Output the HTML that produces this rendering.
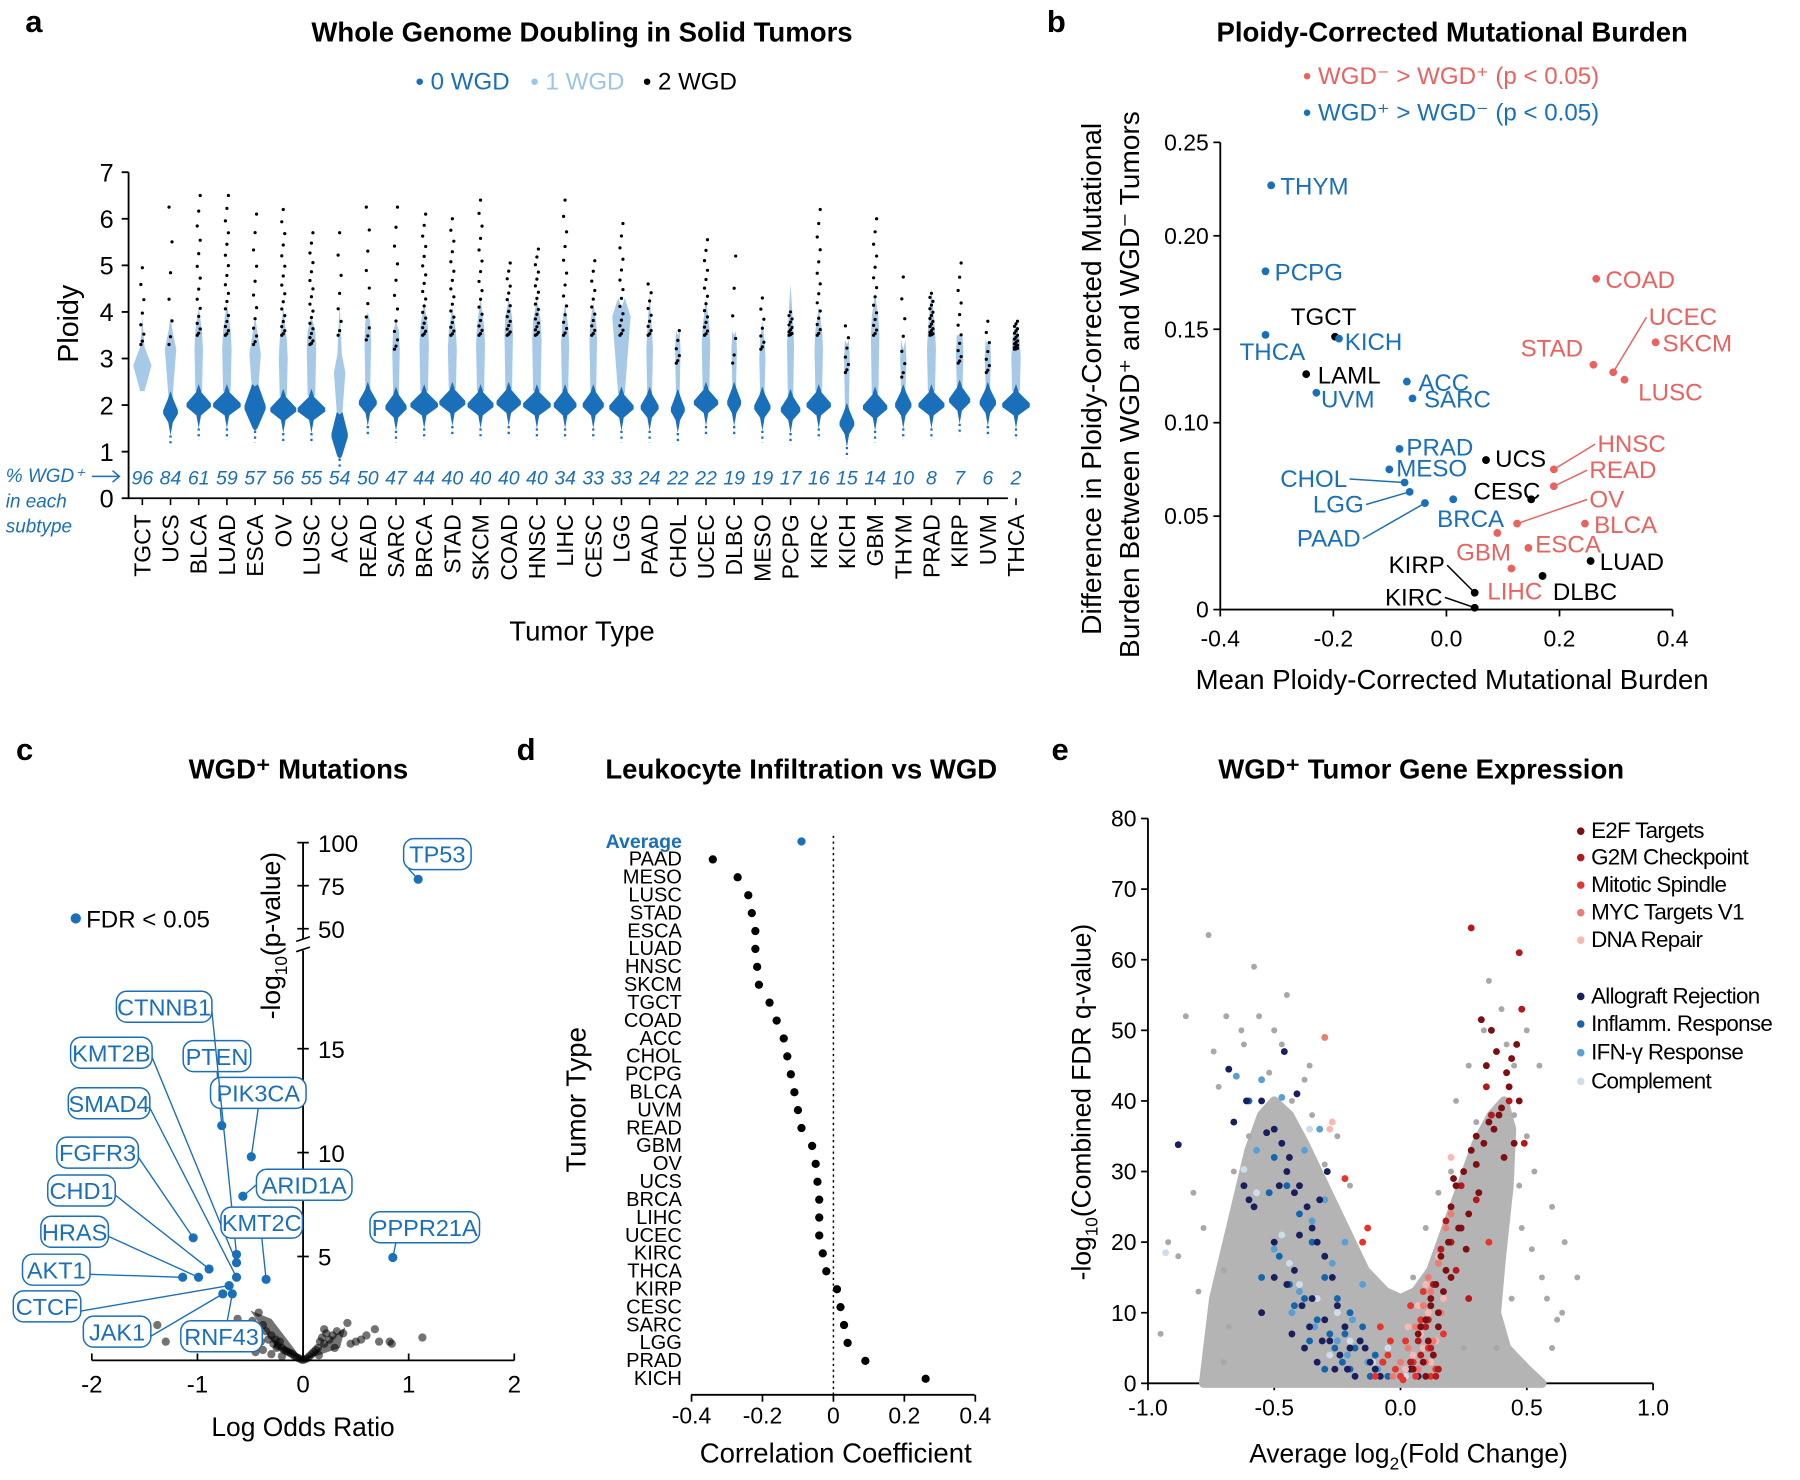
<!DOCTYPE html>
<html><head><meta charset="utf-8"><title>WGD figure</title>
<style>
html,body{margin:0;padding:0;background:#fff;}
svg{display:block;font-family:"Liberation Sans",Arial,sans-serif;}
</style></head>
<body>
<svg id="fig" width="1800" height="1480" viewBox="0 0 1568 1289.2" preserveAspectRatio="none" xmlns="http://www.w3.org/2000/svg">
<g id="pa"></g>
<g id="pb"></g>
<g id="pc"></g>
<g id="pd"></g>
<g id="pe"></g>
</svg>
<script>
// ---------- Panel a data ----------
const aTypes = ["TGCT","UCS","BLCA","LUAD","ESCA","OV","LUSC","ACC","READ","SARC","BRCA","STAD","SKCM","COAD","HNSC","LIHC","CESC","LGG","PAAD","CHOL","UCEC","DLBC","MESO","PCPG","KIRC","KICH","GBM","THYM","PRAD","KIRP","UVM","THCA"];
const aPct = [96,84,61,59,57,56,55,54,50,47,44,40,40,40,40,34,33,33,24,22,22,19,19,17,16,15,14,10,8,7,6,2];
const aCenter0 = [2.0,1.85,2.0,2.0,1.95,1.9,1.9,1.35,2.05,1.95,2.0,2.05,2.0,2.05,2.0,2.0,2.0,1.95,1.95,1.9,2.05,2.05,1.95,1.9,2.0,1.6,1.95,2.0,2.0,2.1,2.05,2.0];
const aCenter1 = [2.85,3.2,3.2,3.2,3.1,3.0,3.2,2.7,3.4,3.2,3.3,3.2,3.3,3.5,3.4,3.3,3.4,3.9,3.2,3.2,3.3,3.2,3.0,3.3,3.2,3.0,3.5,3.0,3.2,3.1,3.0,3.0];
const aTop1 = [3.9,3.9,4.1,4.2,3.9,4.1,3.9,4.2,4.0,3.8,4.2,4.1,4.3,4.3,4.3,4.2,4.2,4.1,4.4,3.5,4.3,3.5,3.8,4.6,4.1,3.3,4.4,3.2,4.5,3.5,3.3,3.8];
const aMax = [4.95,6.25,6.5,6.5,6.1,6.2,5.7,5.7,6.25,6.25,6.1,6.0,6.4,5.05,5.35,6.4,5.1,5.9,4.6,3.6,5.55,5.2,4.3,4.0,6.2,3.7,6.0,4.75,4.4,5.05,3.8,3.8];
const aSize = [0.3,0.2,0.8,1.0,0.6,0.9,1.0,0.3,0.4,0.6,1.0,0.9,0.9,0.8,1.0,0.7,0.6,0.8,0.4,0.15,0.8,0.15,0.3,0.5,0.8,0.2,0.8,0.3,0.9,0.6,0.3,1.0];
const aYTicks = [0,1,2,3,4,5,6,7];

// ---------- Panel b data ----------
const bLabels = ["THYM","PCPG","THCA","TGCT","KICH","LAML","UVM","ACC","SARC","PRAD","MESO","CHOL","LGG","PAAD","BRCA","UCS","CESC","HNSC","READ","OV","BLCA","GBM","ESCA","LIHC","LUAD","DLBC","KIRP","KIRC","COAD","UCEC","STAD","SKCM","LUSC"];
const bMean = [-0.31,-0.32,-0.32,-0.197,-0.19,-0.248,-0.23,-0.07,-0.06,-0.083,-0.101,-0.074,-0.065,-0.038,0.012,0.07,0.15,0.19,0.19,0.125,0.245,0.09,0.145,0.115,0.255,0.17,0.05,0.05,0.265,0.295,0.26,0.37,0.315];
const bDiff = [0.227,0.181,0.147,0.146,0.145,0.126,0.116,0.122,0.113,0.086,0.075,0.068,0.063,0.057,0.059,0.080,0.059,0.075,0.066,0.046,0.046,0.041,0.033,0.022,0.026,0.018,0.009,0.001,0.177,0.127,0.131,0.143,0.123];
const bGroup = ["b","b","b","k","b","k","b","b","b","b","b","b","b","b","b","k","k","r","r","r","r","r","r","r","k","k","k","k","r","r","r","r","r"];
const bXTicks = [-0.4,-0.2,0,0.2,0.4];
const bXTickLabels = ["-0.4","-0.2","0.0","0.2","0.4"];
const bYTicks = [0,0.05,0.10,0.15,0.20,0.25];
const bYTickLabels = ["0","0.05","0.10","0.15","0.20","0.25"];

// ---------- Panel c data ----------
const cGenes = ["TP53","PPPR21A","PTEN","PIK3CA","ARID1A","FGFR3","CTNNB1","KMT2B","SMAD4","CHD1","HRAS","AKT1","CTCF","JAK1","RNF43","KMT2C"];
const cLOR = [1.09,0.85,-0.77,-0.49,-0.57,-1.04,-0.63,-0.63,-0.63,-0.89,-0.99,-1.14,-0.70,-0.76,-0.67,-0.35];
const cLogP = [78.7,4.95,11.3,9.8,7.9,5.9,5.1,4.7,4.0,4.4,4.0,4.0,3.6,3.2,3.2,3.9];
const cBgLOR = [-1.82,-1.38,-1.3,-0.85,-0.75,-0.62,-0.55,-0.5,-0.48,-0.45,-0.42,-0.4,-0.38,-0.35,-0.33,-0.3,-0.28,-0.26,-0.24,-0.22,-0.2,-0.18,-0.16,-0.14,-0.12,-0.1,-0.08,-0.06,-0.04,-0.02,0,0.02,0.04,0.06,0.08,0.1,0.12,0.14,0.16,0.18,0.2,0.22,0.25,0.28,0.32,0.38,0.42,0.45,0.5,0.55,0.6,0.68,0.72,0.82,0.84,1.13,-0.45,-0.38,-0.3,-0.25,-0.2,0.15,0.2,0.3];
const cBgLogP = [1.6,1.7,0.9,1.6,1.3,2.0,1.5,1.3,1.9,1.1,2.3,0.9,1.7,1.4,1.0,1.2,0.8,1.0,0.7,0.9,0.6,0.5,0.45,0.4,0.35,0.3,0.2,0.15,0.1,0.05,0.02,0.06,0.1,0.2,0.3,0.4,0.5,0.6,0.9,1.1,0.8,1.3,1.0,1.2,1.4,1.3,1.8,0.8,0.9,1.0,1.2,1.5,0.9,0.9,0.8,1.1,0.4,0.5,0.3,0.6,0.2,0.25,1.5,0.6];
const cYTicksLow = [5,10,15];
const cYTicksHigh = [50,75,100];
const cXTicks = [-2,-1,0,1,2];

// ---------- Panel d data ----------
const dTypes = ["Average","PAAD","MESO","LUSC","STAD","ESCA","LUAD","HNSC","SKCM","TGCT","COAD","ACC","CHOL","PCPG","BLCA","UVM","READ","GBM","OV","UCS","BRCA","LIHC","UCEC","KIRC","THCA","KIRP","CESC","SARC","LGG","PRAD","KICH"];
const dCorr = [-0.09,-0.34,-0.27,-0.24,-0.23,-0.22,-0.22,-0.215,-0.21,-0.18,-0.16,-0.14,-0.13,-0.12,-0.11,-0.10,-0.09,-0.06,-0.05,-0.045,-0.04,-0.04,-0.04,-0.03,-0.02,0.01,0.02,0.03,0.04,0.09,0.26];
const dXTicks = [-0.4,-0.2,0,0.2,0.4];

// ---------- Panel e data ----------
const eSets = ["E2F Targets","G2M Checkpoint","Mitotic Spindle","MYC Targets V1","DNA Repair","Allograft Rejection","Inflamm. Response","IFN-γ Response","Complement"];
const eColors = ["#7d0f12","#b3191e","#e8322c","#ef7a72","#f7b9b2","#1b1e5c","#1565ad","#5a9fd4","#cfdcea"];
const eGreyX = [-0.76,-0.58,-0.85,-0.69,-0.74,-0.72,-0.62,-0.63,-0.56,-0.47,-0.52,-0.38,-0.35,-0.43,-0.25,-0.2,-0.3,-0.4,-0.92,-0.88,-0.95,-0.8,-0.7,-0.5,0.27,0.35,0.4,0.45,0.5,0.55,0.6,0.65,0.7,0.58,0.52,0.48,0.62,0.64,0.3,0.22,0.2,0.15,0.1,0.05,0.44,0.38,0.25,-0.66,-0.6,-0.55,-0.82,-0.78,-0.68,-0.7,0.5,0.53,0.47,0.56,0.6,0.45,-0.45,-0.5,-0.36,0.33,0.42];
const eGreyY = [63.5,59,52,52,47,42,48,50,52,48,44,43,38,40,35,28,31,24,20,18,7,13,16,50,45,57,53,45,50,45,25,20,15,12,19,22,9,10,37,40,30,27,22,15,12,5,5,30,35,40,27,22,8,3,35,30,28,15,5,38,55,50,45,50,48];
const eE2FX = [0.32,0.36,0.38,0.42,0.44,0.46,0.47,0.43,0.40,0.35,0.30,0.28,0.25,0.22,0.20,0.30,0.33,0.37,0.41,0.45,0.27,0.24,0.19,0.16,0.12,0.18,0.14,0.10,0.08,0.21,0.31,0.39,0.34,0.26,0.15,0.11,0.13,0.09,0.07,0.17,0.05,0.12,0.15,0.2,0.23,0.1];
const eE2FY = [51.5,50,47,44,46,48,40,42,39,37,35,33,30,28,25,31,34,36,32,34,24,22,20,18,12,16,14,9,8,29,27,38,45,19,10,6,4,3,7,13,2,11,8,15,22,1];
const eG2MX = [0.28,0.47,0.48,0.43,0.49,0.34,0.36,0.30,0.20,0.18,0.24,0.13,0.16,0.10,0.07,0.22,0.27,0.12,0.15,0.08,0.11,0.04,0.14];
const eG2MY = [64.5,61,53,40,34,42,38,26,20,23,28,14,19,8,6,16,12,5,2,4,9,3,1];
const eMitX = [0.02,0.05,0.08,0.11,0.14,0.04,0.17,0.35,-0.05,0.09,-0.13,-0.22,-0.15,0.0,-0.1,-0.07,-0.02,0.01,-0.04,0.06,0.12,-0.08];
const eMitY = [6,3,9,5,2,11,7,20,4,13,22,29,20,1,1,3,2,0.5,6,1,1,8];
const eMycX = [0.12,0.15,0.18,0.06,0.09,0.2,0.13,-0.3,0.1,0.03,0.07,0.16,0.11,-0.03,0.0];
const eMycY = [13,17,22,8,11,24,6,49,3,5,2,10,15,1,3];
const eDNAX = [0.05,0.08,0.11,0.14,0.17,0.02,0.1,0.2,-0.27,-0.28,0.15,0.06,0.12,0.09,0.03,-0.02,0.13,0.07];
const eDNAY = [4,7,10,6,12,2,14,32,37,36,18,1,3,5,8,2,1,11];
const eAlloX = [-0.88,-0.68,-0.66,-0.61,-0.55,-0.53,-0.5,-0.47,-0.45,-0.42,-0.4,-0.37,-0.35,-0.33,-0.3,-0.27,-0.25,-0.22,-0.2,-0.5,-0.45,-0.4,-0.35,-0.3,-0.55,-0.5,-0.42,-0.38,-0.28,-0.62,-0.58,-0.48,-0.44,-0.32,-0.46,-0.41,-0.29,-0.26,-0.1,-0.6,-0.33,-0.31,-0.24,-0.21,-0.18,-0.14,-0.12,-0.08,-0.36,-0.39,-0.43,-0.16,0.04,0.07];
const eAlloY = [33.8,44.5,37,40,40,35.5,36,34,30,27,28,25,22,20,18,15,11,8,5,20,14,21,12,9,10,15,16,5,6,28,25,28,32,26,47,41,30,2,2,26,3,6,4,2,1,5,3,1,8,11,7,6,2,1];
const eInfX = [-0.6,-0.5,-0.45,-0.4,-0.35,-0.3,-0.25,-0.2,-0.15,-0.1,-0.48,-0.38,-0.28,-0.18,-0.42,-0.33,-0.23,-0.52,-0.55,-0.3,-0.26,-0.2,-0.16,-0.12,-0.07,-0.36,-0.44,-0.22,-0.05];
const eInfY = [40,32,28,24,20,15,12,10,8,4,18,12,7,5,11,9,3,27,15,2,5,2,6,1,3,6,14,7,1];
const eIfnX = [-0.65,-0.55,-0.47,-0.38,-0.3,-0.22,-0.15,-0.43,-0.35,-0.27,-0.19,-0.5,-0.57,-0.32,-0.25,-0.21,-0.13,-0.09,-0.34,-0.4];
const eIfnY = [43.5,43,40.5,33,26,20,14,10,23,17,9,19,33,36,6,4,3,2,8,13];
const eCompX = [-0.93,-0.62,-0.57,-0.47,-0.4,-0.33,-0.25,-0.15,-0.05,-0.36,-0.44,-0.2,-0.11,-0.03,-0.28,0.02];
const eCompY = [18.5,30.3,27,21,14,12,10,8,5,36,17,6,3,1,4,1];
const eCoreX = [-0.78,-0.74,-0.66,-0.6,-0.55,-0.5,-0.44,-0.38,-0.3,-0.22,-0.14,-0.06,0.0,0.06,0.12,0.18,0.24,0.3,0.36,0.41,0.44,0.43,0.4,0.38,0.42,0.5,0.56];
const eCoreY = [0,12,24,33,38,40,38,34,28,22,16,13,12,13,16,22,28,34,38,40,36,28,18,10,5,2,0];
const eXTicks = [-1,-0.5,0,0.5,1];
const eXTickLabels = ["-1.0","-0.5","0.0","0.5","1.0"];
const eYTicks = [0,10,20,30,40,50,60,70,80];

// ---------- helpers ----------
const NS = "http://www.w3.org/2000/svg";
function mk(parent, tag, attrs, txt){
  const e = document.createElementNS(NS, tag);
  for (const k in attrs) e.setAttribute(k, attrs[k]);
  if (txt !== undefined) e.textContent = txt;
  parent.appendChild(e);
  return e;
}
const BLUE = "#1a6fba", LBLUE = "#9dc3e6", RED = "#e8625f";

// ================= Panel A =================
(function(){
  const g = document.getElementById("pa");
  const x0 = 124, dx = 24.55, yA = v => 434 - v*40.57;
  let t = mk(g,"text",{x:22,y:28,"font-size":27,"font-weight":"bold"},"a");
   
  t = mk(g,"text",{x:507,y:36,"font-size":24,"font-weight":"bold","text-anchor":"middle"},"Whole Genome Doubling in Solid Tumors");
   
  const leg = [["• 0 WGD",BLUE,362],["• 1 WGD",LBLUE,462],["• 2 WGD","#000",560]];
  leg.forEach(l=>{
    const e = mk(g,"text",{x:l[2],y:78,"font-size":21,fill:l[1]},l[0]);
     
  });
  const ax = mk(g,"path",{d:"M112,150 V434 H878",stroke:"#000","stroke-width":1.6,fill:"none"});
   
  aYTicks.forEach(v=>{
    mk(g,"line",{x1:106,x2:112,y1:yA(v),y2:yA(v),stroke:"#000","stroke-width":1.6});
    const e = mk(g,"text",{x:99,y:yA(v)+8,"font-size":22,"text-anchor":"end"},String(v));
     
  });
  t = mk(g,"text",{transform:"translate(68,282) rotate(-90)","font-size":25,"text-anchor":"middle"},"Ploidy");
   
  t = mk(g,"text",{x:507,y:558,"font-size":24,"text-anchor":"middle"},"Tumor Type");
   
  const note = mk(g,"g",{fill:BLUE,"font-size":16.5,"font-style":"italic"});
   
  mk(note,"text",{x:5,y:420},"% WGD⁺");
  mk(note,"text",{x:5,y:442},"in each");
  mk(note,"text",{x:5,y:464},"subtype");
  mk(g,"path",{d:"M80,415 H104 M98,410 L104,415 L98,420",stroke:BLUE,"stroke-width":1.3,fill:"none"});
  aTypes.forEach((name,i)=>{
    const x = x0 + i*dx;
    const grp = mk(g,"g",{});
     
    mk(grp,"line",{x1:x,x2:x,y1:434,y2:440,stroke:"#000","stroke-width":1.4});
    const s = aSize[i], c0 = aCenter0[i], c1 = aCenter1[i];
    const w1 = 1.3 + s*2;
    const w1b = (i===0||i===17) ? 8 : (i===1||i===4||i===7 ? 5 : w1+0.8);
    mk(grp,"path",{d:`M${x},${yA(aTop1[i])} L${x+w1},${yA(c1+0.4)} L${x+w1b},${yA(c1)} L${x+w1},${yA(c0+0.3)} L${x-w1},${yA(c0+0.3)} L${x-w1b},${yA(c1)} L${x-w1},${yA(c1+0.4)} Z`,fill:LBLUE,opacity:0.9});
    if (aPct[i] < 90) {
      const w0 = 5 + s*7;
      const spread = (i===4||i===7) ? 0.35 : 0.12;
      mk(grp,"path",{d:`M${x},${yA(c0-0.5)} L${x+2},${yA(c0-spread-0.1)} L${x+w0},${yA(c0-0.04)} L${x+w0},${yA(c0+0.04)} L${x+2.5},${yA(c0+spread+0.15)} L${x},${yA(c0+0.45)} L${x-2.5},${yA(c0+spread+0.15)} L${x-w0},${yA(c0+0.04)} L${x-w0},${yA(c0-0.04)} L${x-2},${yA(c0-spread-0.1)} Z`,fill:BLUE});
      mk(grp,"line",{x1:x,x2:x,y1:yA(c0-0.5),y2:yA(c0-0.75),stroke:BLUE,"stroke-width":2,"stroke-dasharray":"2 3"});
    }
    const nb = Math.round(4 + s*14);
    const lo = Math.min(aTop1[i]-0.6, 3.5);
    for (let k=0;k<nb;k++){
      const f = k/(nb-1);
      const v = lo + (aMax[i]-lo)*Math.pow(f,1.6);
      mk(grp,"circle",{cx:x + ((k%3)-1)*1.3,cy:yA(v),r:1.4,fill:"#000"});
    }
    const lab = mk(g,"text",{transform:`translate(${x+7},448) rotate(-90)`,"font-size":20,"text-anchor":"end"},name);
     
    const pt = mk(g,"text",{x:x,y:422,"font-size":17,"font-style":"italic","text-anchor":"middle",fill:BLUE},String(aPct[i]));
     
  });
})();

// ================= Panel B =================
(function(){
  const g = document.getElementById("pb");
  const xB = v => 1260 + v*492.5, yB = v => 531 - v*1628;
  let t = mk(g,"text",{x:912,y:28,"font-size":27,"font-weight":"bold"},"b");
   
  t = mk(g,"text",{x:1265,y:36,"font-size":24,"font-weight":"bold","text-anchor":"middle"},"Ploidy-Corrected Mutational Burden");
   
  t = mk(g,"text",{x:1135,y:73,"font-size":21,fill:RED},"• WGD⁻ > WGD⁺ (p < 0.05)");
   
  t = mk(g,"text",{x:1135,y:105,"font-size":21,fill:BLUE},"• WGD⁺ > WGD⁻ (p < 0.05)");
   
  const ax = mk(g,"path",{d:`M1063,124 V531 H1457`,stroke:"#000","stroke-width":1.6,fill:"none"});
   
  bYTicks.forEach((v,i)=>{
    mk(g,"line",{x1:1057,x2:1063,y1:yB(v),y2:yB(v),stroke:"#000","stroke-width":1.5});
    const e = mk(g,"text",{x:1053,y:yB(v)+7,"font-size":20,"text-anchor":"end"},bYTickLabels[i]);
     
  });
  bXTicks.forEach((v,i)=>{
    mk(g,"line",{x1:xB(v),x2:xB(v),y1:531,y2:537,stroke:"#000","stroke-width":1.5});
    const e = mk(g,"text",{x:xB(v),y:563,"font-size":20,"text-anchor":"middle"},bXTickLabels[i]);
     
  });
  t = mk(g,"text",{transform:"translate(959,330) rotate(-90)","font-size":24.5,"text-anchor":"middle"},"Difference in Ploidy-Corrected Mutational");
   
  t = mk(g,"text",{transform:"translate(992,335) rotate(-90)","font-size":24.5,"text-anchor":"middle"},"Burden Between  WGD⁺ and WGD⁻ Tumors");
   
  t = mk(g,"text",{x:1265,y:600,"font-size":24,"text-anchor":"middle"},"Mean Ploidy-Corrected Mutational Burden");
   
  // label offsets [dx,dy,anchor,leader]
  const off = {THYM:[8,8,"start"],PCPG:[8,8,"start"],THCA:[6,22,"middle"],TGCT:[-10,-10,"middle"],KICH:[5,10,"start"],LAML:[10,8,"start"],UVM:[4,13,"start"],
    ACC:[10,8,"start"],SARC:[10,8,"start"],PRAD:[6,6,"start"],MESO:[6,6,"start"],CHOL:[-50,4,"end",1],LGG:[-40,18,"end",1],PAAD:[-56,38,"end",1],
    BRCA:[-14,24,"start"],UCS:[8,6,"start"],CESC:[8,0,"end"],HNSC:[38,-15,"start",1],READ:[31,-7,"start",1],OV:[63,-14,"start",1],BLCA:[8,8,"start"],
    GBM:[-12,24,"middle"],ESCA:[6,4,"start"],LIHC:[-21,27,"start"],LUAD:[8,8,"start"],DLBC:[9,21,"start"],KIRP:[-26,-17,"end",1],KIRC:[-28,-2,"end",1],
    COAD:[8,8,"start"],UCEC:[31,-41,"start",1],STAD:[-9,-7,"end"],SKCM:[6,8,"start"],LUSC:[12,18,"start"]};
  const col = {b:BLUE,r:RED,k:"#000"};
  bLabels.forEach((name,i)=>{
    const px = xB(bMean[i]), py = yB(bDiff[i]);
    const c = col[bGroup[i]];
    const o = off[name] || [8,8,"start"];
    const grp = mk(g,"g",{});
     
    if (o[3]) {
      const lx = px + o[0] + (o[2]==="end" ? 2 : -2), ly = py + o[1] - 7;
      mk(grp,"line",{x1:px,y1:py,x2:lx,y2:ly,stroke:c,"stroke-width":1.3});
    }
    mk(grp,"circle",{cx:px,cy:py,r:3.4,fill:c});
    mk(grp,"text",{x:px+o[0],y:py+o[1],"font-size":21,fill:c,"text-anchor":o[2]},name);
  });
})();

// ================= Panel C =================
(function(){
  const g = document.getElementById("pc");
  const xC = v => 264 + v*92;
  const yC = v => v <= 20 ? 1185 - v*18.1 : 809 - (v-50)*1.5;
  let t = mk(g,"text",{x:14,y:662,"font-size":27,"font-weight":"bold"},"c");
   
  t = mk(g,"text",{x:260,y:678,"font-size":24,"font-weight":"bold","text-anchor":"middle"},"WGD⁺ Mutations");
   
  const ax = mk(g,"path",{d:"M264,734 V818 M264,828 V1185 M80,1185 H448",stroke:"#000","stroke-width":1.6,fill:"none"});
   
  mk(g,"path",{d:"M258,820 L270,816 M258,829 L270,825",stroke:"#000","stroke-width":1.4});
  cYTicksLow.forEach(v=>{
    mk(g,"line",{x1:259,x2:269,y1:yC(v),y2:yC(v),stroke:"#000","stroke-width":1.5});
    const e = mk(g,"text",{x:277,y:yC(v)+8,"font-size":21},String(v));
     
  });
  cYTicksHigh.forEach(v=>{
    mk(g,"line",{x1:259,x2:269,y1:yC(v),y2:yC(v),stroke:"#000","stroke-width":1.5});
    const e = mk(g,"text",{x:277,y:yC(v)+8,"font-size":21},String(v));
     
  });
  cXTicks.forEach(v=>{
    mk(g,"line",{x1:xC(v),x2:xC(v),y1:1185,y2:1179,stroke:"#000","stroke-width":1.5});
    const e = mk(g,"text",{x:xC(v),y:1213,"font-size":21,"text-anchor":"middle"},String(v));
     
  });
  t = mk(g,"text",{transform:"translate(244,815) rotate(-90)","font-size":23,"text-anchor":"middle"});
   
  t.innerHTML = '-log<tspan font-size="15" dy="6">10</tspan><tspan dy="-6">(p-value)</tspan>';
  t = mk(g,"text",{x:264,y:1251,"font-size":23,"text-anchor":"middle"},"Log Odds Ratio");
   
  const lm = mk(g,"circle",{cx:66,cy:800,r:4.5,fill:BLUE});
   
  t = mk(g,"text",{x:75,y:808,"font-size":21},"FDR < 0.05");
   
  cBgLOR.forEach((v,i)=>{
    const d = mk(g,"circle",{cx:xC(v),cy:yC(cBgLogP[i]),r:3.6,fill:"#000",opacity:0.55});
     
  });
  mk(g,"path",{d:`M${xC(-0.5)},${yC(2.4)} L${xC(-0.3)},${yC(2.0)} L${xC(0)},${yC(0)} L${xC(0.4)},${yC(1.6)} L${xC(0.35)},${yC(0.6)} L${xC(0)},${yC(0)} L${xC(-0.25)},${yC(0.6)} Z`,fill:"#000",opacity:0.55});
  const box = {TP53:[381,744],PPPR21A:[370,1069],PTEN:[189,920],PIK3CA:[225,952],ARID1A:[265,1032],FGFR3:[85,1004],CTNNB1:[143,877],KMT2B:[97,917],SMAD4:[95,961],CHD1:[71,1037],HRAS:[65,1073],AKT1:[49,1106],CTCF:[41,1138],JAK1:[102,1160],RNF43:[193,1164],KMT2C:[228,1065]};
  cGenes.forEach((name,i)=>{
    const px = xC(cLOR[i]), py = yC(cLogP[i]);
    const [bx,by] = box[name];
    const w = name.length*12.2 + 10;
    const grp = mk(g,"g",{});
     
    let ex = bx, ey = by + 13;
    if (bx + w/2 < px - 5) { ex = bx + w/2; ey = by + 4; }
    if (name==="TP53"||name==="PPPR21A"||name==="ARID1A") { ex = bx - (name==="ARID1A"? w/2 : 25); ey = by + (name==="ARID1A"?0:13); }
    mk(grp,"line",{x1:px,y1:py,x2:ex,y2:ey,stroke:BLUE,"stroke-width":1.2});
    mk(grp,"circle",{cx:px,cy:py,r:4,fill:BLUE});
    mk(grp,"rect",{x:bx-w/2,y:by-13.5,width:w,height:27,rx:9,fill:"#fff",stroke:BLUE,"stroke-width":1.3});
    mk(grp,"text",{x:bx,y:by+7.5,"font-size":20.5,fill:BLUE,"text-anchor":"middle"},name);
  });
})();

// ================= Panel D =================
(function(){
  const g = document.getElementById("pd");
  const xD = v => 726 + v*309;
  const yD = i => 733 + i*15.6;
  let t = mk(g,"text",{x:450,y:662,"font-size":27,"font-weight":"bold"},"d");
   
  t = mk(g,"text",{x:698,y:678,"font-size":24,"font-weight":"bold","text-anchor":"middle"},"Leukocyte Infiltration vs WGD");
   
  const ax = mk(g,"path",{d:"M602,1215 H849",stroke:"#000","stroke-width":1.6,fill:"none"});
   
  const z = mk(g,"line",{x1:xD(0),x2:xD(0),y1:728,y2:1215,stroke:"#000","stroke-width":1.3,"stroke-dasharray":"2 3"});
   
  dXTicks.forEach(v=>{
    mk(g,"line",{x1:xD(v),x2:xD(v),y1:1215,y2:1221,stroke:"#000","stroke-width":1.5});
    const e = mk(g,"text",{x:xD(v),y:1240,"font-size":20,"text-anchor":"middle"},String(v));
     
  });
  dTypes.forEach((name,i)=>{
    const avg = i===0;
    const e = mk(g,"text",{x:594,y:yD(i)+5.5,"font-size":avg?17:17.5,"text-anchor":"end",fill:avg?BLUE:"#000","font-weight":avg?"bold":"normal"},name);
     
    const c = mk(g,"circle",{cx:xD(dCorr[i]),cy:yD(i),r:3.6,fill:avg?BLUE:"#000"});
     
  });
  t = mk(g,"text",{transform:"translate(510,958) rotate(-90)","font-size":24,"text-anchor":"middle"},"Tumor Type");
   
  t = mk(g,"text",{x:728,y:1274,"font-size":24,"text-anchor":"middle"},"Correlation Coefficient");
   
})();

// ================= Panel E =================
(function(){
  const g = document.getElementById("pe");
  const xE = v => 1220 + v*220;
  const yE = v => 1205 - v*6.15;
  let t = mk(g,"text",{x:916,y:662,"font-size":27,"font-weight":"bold"},"e");
   
  t = mk(g,"text",{x:1238,y:678,"font-size":24,"font-weight":"bold","text-anchor":"middle"},"WGD⁺ Tumor Gene Expression");
   
  const ax = mk(g,"path",{d:"M1000,713 V1205 H1440",stroke:"#000","stroke-width":1.6,fill:"none"});
   
  eYTicks.forEach(v=>{
    mk(g,"line",{x1:994,x2:1000,y1:yE(v),y2:yE(v),stroke:"#000","stroke-width":1.5});
    const e = mk(g,"text",{x:990,y:yE(v)+7,"font-size":20,"text-anchor":"end"},String(v));
     
  });
  eXTicks.forEach((v,i)=>{
    mk(g,"line",{x1:xE(v),x2:xE(v),y1:1205,y2:1211,stroke:"#000","stroke-width":1.5});
    const e = mk(g,"text",{x:xE(v),y:1233,"font-size":20,"text-anchor":"middle"},eXTickLabels[i]);
     
  });
  t = mk(g,"text",{transform:"translate(950,960) rotate(-90)","font-size":23,"text-anchor":"middle"});
   
  t.innerHTML = '-log<tspan font-size="15" dy="6">10</tspan><tspan dy="-6">(Combined FDR q-value)</tspan>';
  t = mk(g,"text",{x:1227,y:1274,"font-size":23,"text-anchor":"middle"});
   
  t.innerHTML = 'Average log<tspan font-size="15" dy="6">2</tspan><tspan dy="-6">(Fold Change)</tspan>';
  let d = eCoreX.map((v,i)=>(i?"L":"M")+xE(v)+","+yE(eCoreY[i])).join(" ")+" Z";
  const core = mk(g,"path",{d:d,fill:"#b4b4b4",stroke:"#b4b4b4","stroke-width":8,"stroke-linejoin":"round"});
   
  eGreyX.forEach((v,i)=>{
    const c = mk(g,"circle",{cx:xE(v),cy:yE(eGreyY[i]),r:2.6,fill:"#a8a8a8"});
     
  });
  const sets = [[eCompX,eCompY,8],[eIfnX,eIfnY,7],[eInfX,eInfY,6],[eAlloX,eAlloY,5],[eDNAX,eDNAY,4],[eMycX,eMycY,3],[eMitX,eMitY,2],[eG2MX,eG2MY,1],[eE2FX,eE2FY,0]];
  sets.forEach(s=>{
    s[0].forEach((v,i)=>{
      const c = mk(g,"circle",{cx:xE(v),cy:yE(s[1][i]),r:3,fill:eColors[s[2]]});
      
      
    });
  });
  const ly = [723,746,770,794,818,867,891,916,941];
  eSets.forEach((name,i)=>{
    const grp = mk(g,"g",{});
     
    mk(grp,"circle",{cx:1377,cy:ly[i]+1,r:3.3,fill:eColors[i]});
    mk(grp,"text",{x:1386,y:ly[i]+7,"font-size":19.5,"letter-spacing":"-0.6"},name);
  });
})();
</script>
</body></html>
